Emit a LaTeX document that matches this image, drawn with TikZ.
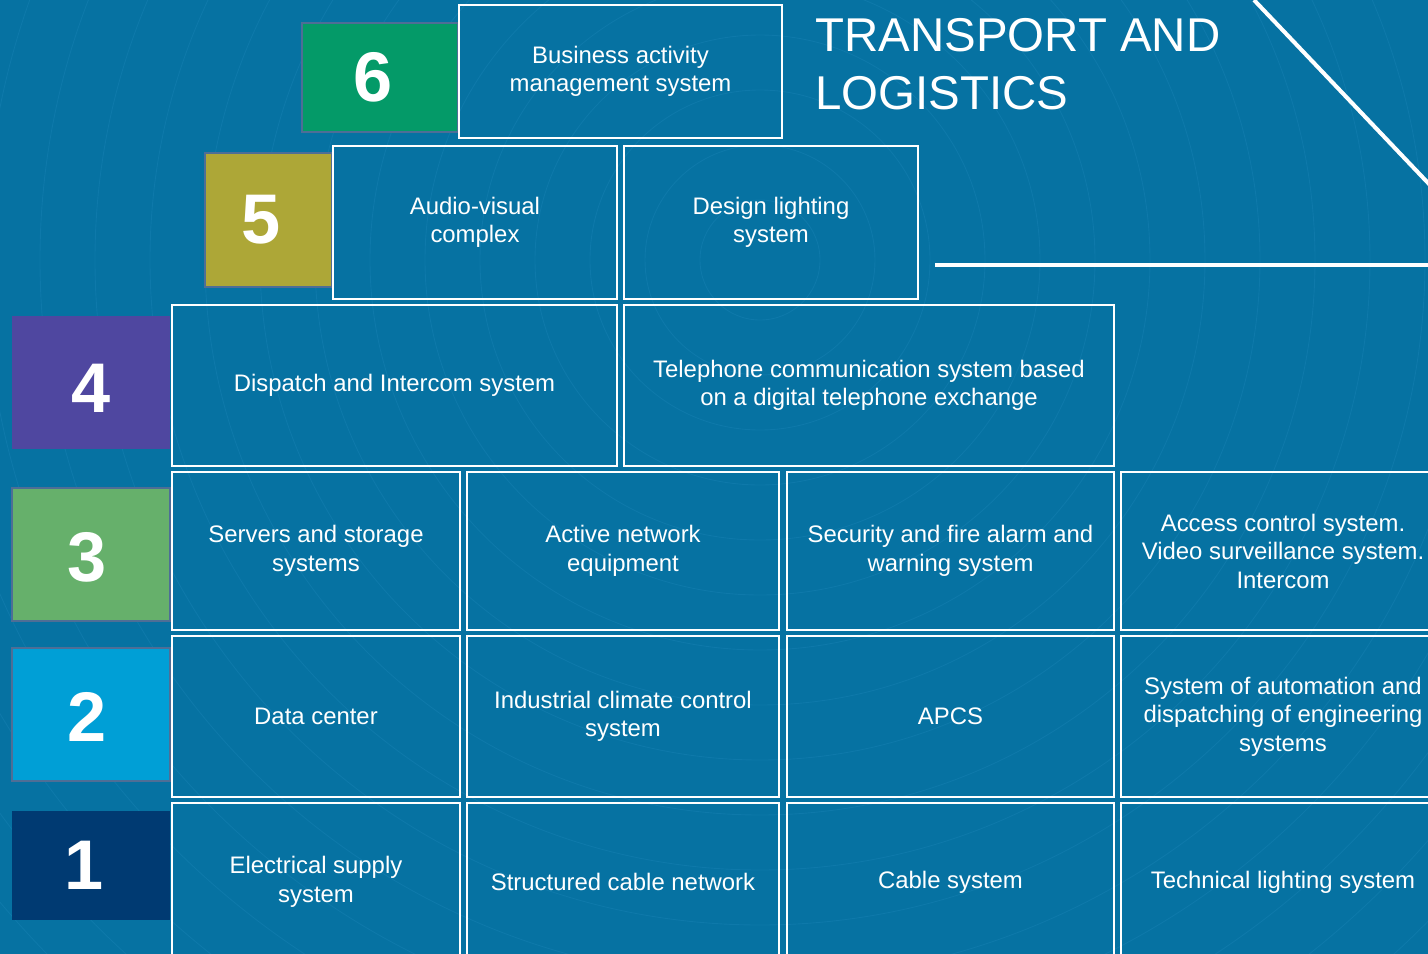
\documentclass[tikz,border=0pt]{standalone}
\usepackage{fontspec}
\setmainfont{Liberation Sans}
\usepackage{tikz}
\usetikzlibrary{positioning}

\definecolor{bgblue}{RGB}{6,114,162}
\definecolor{arcblue}{RGB}{14,121,170}
\definecolor{numedge}{RGB}{78,110,150}
\definecolor{lvlsix}{RGB}{4,154,104}
\definecolor{lvlfive}{RGB}{173,167,55}
\definecolor{lvlfour}{RGB}{79,71,160}
\definecolor{lvlthree}{RGB}{102,176,107}
\definecolor{lvltwo}{RGB}{0,159,214}
\definecolor{lvlone}{RGB}{0,58,114}

\begin{document}
\begin{tikzpicture}[
	x=0.02cm, y=-0.02cm,
	cell/.style={draw=white, line width=1.3pt, inner sep=2pt, align=center,
		text=white, font=\fontsize{13.6}{16.2}\selectfont},
	level/.style={draw=numedge, line width=0.8pt, text=white,
		font=\fontsize{40}{40}\selectfont\bfseries},
	rule/.style={draw=white, line width=2.3pt}]
	\useasboundingbox[fill=bgblue] (0,0) rectangle (1428,954);
	% faint rings
	\begin{scope}
	\clip (0,0) rectangle (1428,954);
	\foreach \r in {60,115,...,1300}
		\draw[arcblue, line width=0.5pt] (760,260) circle (\r);
	\end{scope}

	% level numbers
	\node[level, fill=lvlsix, minimum width=3.12cm, minimum height=2.18cm] (n6) at (380,77.5) {\kern-8pt6};
	\node[level, fill=lvlfive, minimum width=2.54cm, minimum height=2.68cm] (n5) at (268.5,220) {\kern-8pt5};
	\node[level, fill=lvlfour, draw=none, minimum width=3.16cm, minimum height=2.66cm] (n4) at (91,382.5) {\raisebox{-3.4pt}[\height][\depth]{4}};
	\node[level, fill=lvlthree, minimum width=3.16cm, minimum height=2.66cm] (n3) at (91,554.5) {\kern-5pt\raisebox{-1.5pt}[\height][\depth]{3}};
	\node[level, fill=lvltwo, minimum width=3.16cm, minimum height=2.66cm] (n2) at (91,714.5) {\kern-5pt\raisebox{-1.5pt}[\height][\depth]{2}};
	\node[level, fill=lvlone, draw=none, minimum width=3.16cm, minimum height=2.18cm] (n1) at (91,865.5) {\kern-8pt1};

	% level 6 and 5
	\node[cell, minimum width=6.46cm, minimum height=2.66cm] (bams) at (620.5,71.5) {Business activity\\management system};
	\node[cell, minimum width=5.68cm, minimum height=3.06cm] (avc) at (475,222.5) {Audio-visual\\complex};
	\node[cell, minimum width=5.88cm, minimum height=3.06cm] (dls) at (771,222.5) {Design lighting\\system};

	% level 4
	\node[cell, minimum width=8.90cm, minimum height=3.22cm] (dis) at (394.5,385.5) {Dispatch and Intercom system};
	\node[cell, minimum width=9.80cm, minimum height=3.22cm] (tel) at (869,385.5) {Telephone communication system based\\on a digital telephone exchange};

	% level 3
	\node[cell, minimum width=5.76cm, minimum height=3.16cm] (srv) at (316,551) {Servers and storage\\systems};
	\node[cell, minimum width=6.24cm, minimum height=3.16cm] (ane) at (623,551) {Active network\\equipment};
	\node[cell, minimum width=6.54cm, minimum height=3.16cm] (sfa) at (950.5,551) {Security and fire alarm and\\warning system};
	\node[cell, minimum width=6.48cm, minimum height=3.16cm] (acs) at (1283,551) {Access control system.\\Video surveillance system.\\Intercom};

	% level 2
	\node[cell, minimum width=5.76cm, minimum height=3.22cm] (dc) at (316,716.5) {Data center};
	\node[cell, minimum width=6.24cm, minimum height=3.22cm] (icc) at (623,716.5) {Industrial climate control\\system};
	\node[cell, minimum width=6.54cm, minimum height=3.22cm] (apcs) at (950.5,716.5) {APCS};
	\node[cell, minimum width=6.48cm, minimum height=3.22cm] (sade) at (1283,716.5) {System of automation and\\dispatching of engineering\\systems};

	% level 1
	\node[cell, minimum width=5.76cm, minimum height=3.16cm] (ess) at (316,882) {Electrical supply\\system};
	\node[cell, minimum width=6.24cm, minimum height=3.16cm] (scn) at (623,882) {Structured cable network};
	\node[cell, minimum width=6.54cm, minimum height=3.16cm] (cbl) at (950.5,882) {Cable system};
	\node[cell, minimum width=6.48cm, minimum height=3.16cm] (tls) at (1283,882) {Technical lighting system};

	% title and rules
	\node[anchor=north west, inner sep=0pt, align=left, text=white,
		font=\fontsize{27}{33}\selectfont] (title) at (815,18) {TRANSPORT AND\\LOGISTICS};
	\coordinate (dgA) at (1254,0);
	\coordinate (dgB) at (1430,185);
	\coordinate (hrA) at (935,265);
	\coordinate (hrB) at (1430,265);
	\draw[rule] (dgA) -- (dgB);
	\draw[rule] (hrA) -- (hrB);
\end{tikzpicture}
\end{document}
